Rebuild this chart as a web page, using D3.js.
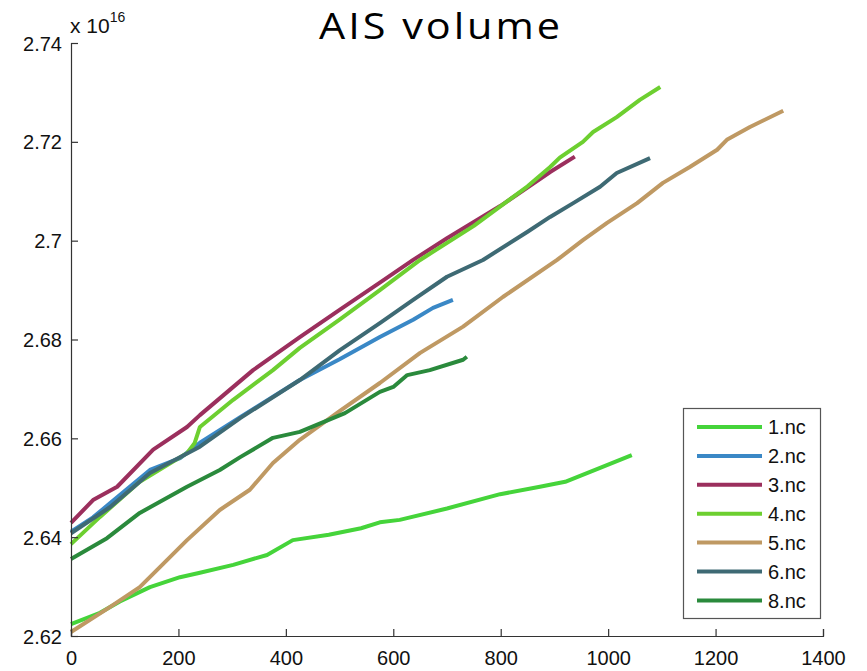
<!DOCTYPE html>
<html><head><meta charset="utf-8">
<script src="https://cdn.jsdelivr.net/npm/d3@7"></script>
<style>body{margin:0;background:#fff}svg{display:block}</style>
</head><body>
<script>
const seriesNames = ["1.nc","2.nc","3.nc","4.nc","5.nc","6.nc","8.nc"];
const seriesColors = ["#45d43a","#3a88c6","#9b2f5d","#6dcf30","#bf9963","#3e6a74","#2a8a3c"];
const xTicks = [0,200,400,600,800,1000,1200,1400];
const yTicks = [2.62,2.64,2.66,2.68,2.70,2.72,2.74];

const x1 = [0,54,91,147,203,240,302,365,413,480,540,575,612,700,799,873,920,985,1044];
const y1 = [2.6224,2.6247,2.6270,2.6299,2.6319,2.6328,2.6344,2.6364,2.6394,2.6405,2.6418,2.6430,2.6435,2.6458,2.6487,2.6502,2.6512,2.6540,2.6566];
const x2 = [0,41,73,147,203,240,315,426,500,575,637,674,711];
const y2 = [2.6411,2.6440,2.6469,2.6536,2.6560,2.6591,2.6643,2.6718,2.6760,2.6805,2.6840,2.6864,2.6880];
const x3 = [0,41,86,153,216,240,339,426,500,575,637,700,799,892,938];
const y3 = [2.6429,2.6475,2.6502,2.6577,2.6623,2.6647,2.6738,2.6805,2.6860,2.6915,2.6961,2.7005,2.7070,2.7139,2.7170];
const x4 = [0,54,128,216,230,240,302,376,426,500,575,650,750,850,892,910,953,972,1016,1059,1097];
const y4 = [2.6386,2.6441,2.6512,2.6570,2.6590,2.6623,2.6678,2.6738,2.6783,2.6840,2.6900,2.6961,2.7030,2.7110,2.7149,2.7168,2.7200,2.7220,2.7250,2.7285,2.7311];
const x5 = [0,73,128,166,216,277,333,376,426,500,575,650,730,804,905,953,998,1054,1102,1152,1203,1221,1264,1326];
const y5 = [2.6208,2.6259,2.6299,2.6340,2.6394,2.6455,2.6496,2.6550,2.6597,2.6655,2.6712,2.6773,2.6826,2.6886,2.6961,2.7001,2.7036,2.7076,2.7117,2.7149,2.7184,2.7204,2.7230,2.7263];
const x6 = [0,73,147,240,315,426,500,575,637,700,767,850,892,935,985,1016,1078];
const y6 = [2.6408,2.6461,2.6530,2.6583,2.6641,2.6718,2.6778,2.6833,2.6880,2.6927,2.6961,2.7018,2.7048,2.7076,2.7109,2.7137,2.7167];
const x8 = [0,67,128,216,277,315,376,426,510,575,600,626,668,730,737];
const y8 = [2.6356,2.6398,2.6449,2.6502,2.6536,2.6562,2.6601,2.6613,2.6651,2.6694,2.6704,2.6728,2.6738,2.6759,2.6765];

const xsAll = [x1,x2,x3,x4,x5,x6,x8];
const ysAll = [y1,y2,y3,y4,y5,y6,y8];

const W = 867, H = 671;
const m = {left:71, right:44, top:43, bottom:35};
const svg = d3.select("body").append("svg").attr("width",W).attr("height",H);
const x = d3.scaleLinear().domain([0,1400]).range([m.left, W-m.right]);
const y = d3.scaleLinear().domain([2.62,2.74]).range([H-m.bottom, m.top]);
const font = "'Liberation Sans', Arial, sans-serif";

// title
svg.append("text").attr("transform","translate(441,39) scale(1.15,1)").attr("text-anchor","middle")
  .style("font-family","'Open Sans', 'DejaVu Sans', sans-serif").style("font-size","36px")
  .style("letter-spacing","2.6px").attr("fill","#000")
  .text("AIS volume");

// lines
const line = d3.line().x(d=>x(d[0])).y(d=>y(d[1]));
xsAll.forEach((xs,i)=>{
  const pts = xs.map((v,j)=>[v, ysAll[i][j]]);
  svg.append("path").attr("d",line(pts)).attr("fill","none")
    .attr("stroke",seriesColors[i]).attr("stroke-width",4).attr("stroke-linejoin","round").attr("stroke-linecap","butt");
});

// axes
const gx = svg.append("g").attr("transform",`translate(0,${H-m.bottom})`)
  .call(d3.axisBottom(x).tickValues(xTicks).tickSize(-7).tickPadding(15).tickFormat(d3.format("d")));
const gy = svg.append("g").attr("transform",`translate(${m.left},0)`)
  .call(d3.axisLeft(y).tickValues(yTicks).tickSize(-7).tickPadding(9).tickFormat(d=>String(+d.toFixed(2))));
[gx,gy].forEach(g=>{
  g.select(".domain").attr("stroke","#333").attr("stroke-width",1.2);
  g.selectAll(".tick line").attr("stroke","#333").attr("stroke-width",1.2);
  g.selectAll("text").style("font-family",font).style("font-size","20px").attr("fill","#111");
});
gy.selectAll(".tick text").attr("dy","0.35em");

// exponent
const ex = svg.append("text").attr("x",70).attr("y",33).style("font-family",font).style("font-size","21px").attr("fill","#111");
ex.append("tspan").text("x 10");
ex.append("tspan").attr("dy",-11).style("font-size","14px").text("16");

// legend
const lg = svg.append("g");
lg.append("rect").attr("x",683.5).attr("y",408.5).attr("width",137).attr("height",210)
  .attr("fill","#fff").attr("stroke","#555").attr("stroke-width",1.2);
seriesNames.forEach((n,i)=>{
  const yy = 427 + i*28.9;
  lg.append("line").attr("x1",697).attr("x2",762).attr("y1",yy).attr("y2",yy)
    .attr("stroke",seriesColors[i]).attr("stroke-width",4);
  lg.append("text").attr("x",768).attr("y",yy).attr("dy","0.36em")
    .style("font-family",font).style("font-size","20px").attr("fill","#111").text(n);
});
</script>
</body></html>
